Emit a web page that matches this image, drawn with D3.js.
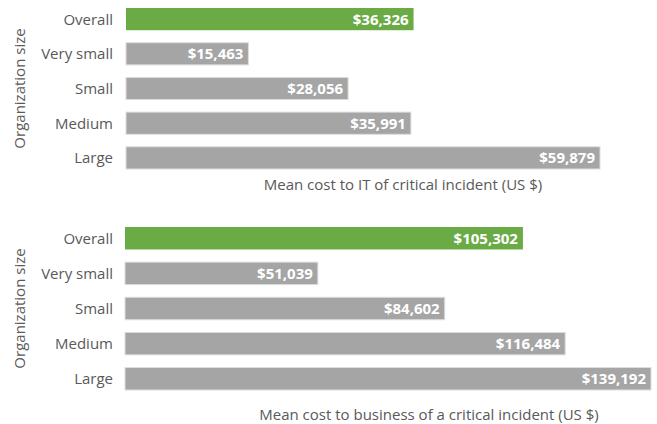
<!DOCTYPE html>
<html>
<head>
<meta charset="utf-8">
<script src="https://cdn.jsdelivr.net/npm/d3@7"></script>
<style>
  body { margin: 0; background: #fff; }
  text { font-family: "Open Sans", sans-serif; }
</style>
</head>
<body>
<svg id="chart" width="657" height="424"></svg>
<script>
// categories (top to bottom)
const categories = ["Overall", "Very small", "Small", "Medium", "Large"];

// mean cost to IT
const itCost = [36326, 15463, 28056, 35991, 59879];
// mean cost to business
const businessCost = [105302, 51039, 84602, 116484, 139192];

const panelTitles = [
  "Mean cost to IT of critical incident (US $)",
  "Mean cost to business of a critical incident (US $)"
];
const yTitle = "Organization size";

const green = "#6aab45";
const grey = "#a5a5a5";
const textColor = "#595959";

const svg = d3.select("#chart");
const fmt = d3.format("$,");

// each panel: its own data, vertical band and x-extent
const panels = [
  { values: itCost, top: 8, bottom: 169, x0: 126, x1: 600, max: 59879, title: panelTitles[0], titleX: 403, titleY: 190 },
  { values: businessCost, top: 227, bottom: 390, x0: 125, x1: 651, max: 139192, title: panelTitles[1], titleX: 429, titleY: 420 }
];

panels.forEach(p => {
  const x = d3.scaleLinear().domain([0, p.max]).range([p.x0, p.x1]);
  const y = d3.scaleBand().domain(categories).range([p.top, p.bottom]).paddingInner(0.36).paddingOuter(0);

  const g = svg.append("g");
  const rows = g.selectAll("g.row")
    .data(categories.map((c, i) => ({ cat: c, v: p.values[i], i })))
    .join("g")
    .attr("class", "row");

  rows.append("rect")
    .attr("x", x(0))
    .attr("y", d => y(d.cat))
    .attr("width", d => x(d.v) - x(0))
    .attr("height", y.bandwidth())
    .attr("fill", d => d.i === 0 ? green : grey)
    .attr("stroke", d => d.i === 0 ? "none" : "#dedede")
    .attr("stroke-width", 1);

  rows.append("text")
    .attr("x", d => x(d.v) - 5)
    .attr("y", d => y(d.cat) + y.bandwidth() / 2)
    .attr("dy", "0.36em")
    .attr("text-anchor", "end")
    .attr("fill", "#fff")
    .attr("font-weight", "bold")
    .attr("font-size", 15)
    .text(d => fmt(d.v));

  // category labels
  rows.append("text")
    .attr("x", 113)
    .attr("y", d => y(d.cat) + y.bandwidth() / 2)
    .attr("dy", "0.36em")
    .attr("text-anchor", "end")
    .attr("fill", textColor)
    .attr("font-size", 15)
    .text(d => d.cat);

  // axis title
  g.append("text")
    .attr("transform", `translate(25,${(p.top + p.bottom) / 2}) rotate(-90)`)
    .attr("text-anchor", "middle")
    .attr("fill", textColor)
    .attr("font-size", 15)
    .text(yTitle);

  g.append("text")
    .attr("x", p.titleX)
    .attr("y", p.titleY)
    .attr("text-anchor", "middle")
    .attr("fill", textColor)
    .attr("font-size", 15)
    .text(p.title);
});
</script>
</body>
</html>
